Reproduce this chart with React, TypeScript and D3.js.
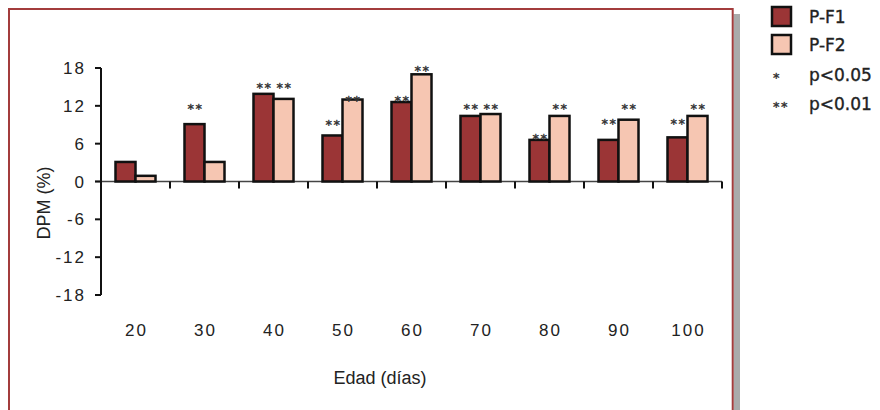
import React from "react";
import * as d3 from "d3";

const categories = ["20", "30", "40", "50", "60", "70", "80", "90", "100"];
const seriesNames = ["P-F1", "P-F2"];
const valuesF1 = [3.1, 9.1, 13.9, 7.3, 12.6, 10.4, 6.6, 6.6, 7.0];
const valuesF2 = [0.9, 3.1, 13.1, 13.0, 17.0, 10.7, 10.4, 9.8, 10.4];
// significance marks ("" none, "*" p<0.05, "**" p<0.01) and the level (in DPM %) where each mark sits
const sigF1 = ["", "**", "**", "**", "**", "**", "**", "**", "**"];
const sigF2 = ["", "", "**", "**", "**", "**", "**", "**", "**"];
const sigLevelF1 = [0, 12.0, 15.4, 9.5, 13.3, 12.0, 7.3, 9.6, 9.6];
const sigLevelF2 = [0, 0, 15.4, 13.3, 18.0, 12.0, 12.0, 12.0, 12.0];
const yTicks = [-18, -12, -6, 0, 6, 12, 18];
const legendSig = [
  { mark: "*", label: "p<0.05" },
  { mark: "**", label: "p<0.01" },
];

const COLORS = ["#9b3536", "#f6c6b2"];
const TICK_FONT = "'Liberation Sans', Arial, sans-serif";
const LEGEND_FONT = "'DejaVu Sans', sans-serif";

export default function App() {
  const W = 880;
  const H = 410;
  const x = d3.scaleBand<string>().domain(categories).range([101, 722]).paddingInner(0).paddingOuter(0);
  const bw = x.bandwidth();
  const xs = d3.scaleBand<string>().domain(seriesNames).range([bw / 2 - 20, bw / 2 + 20]);
  const y = d3.scaleLinear().domain([-18, 18]).range([295, 68]);
  const y0 = y(0);
  const series = [valuesF1, valuesF2];
  const sigs = [sigF1, sigF2];
  const sigLevels = [sigLevelF1, sigLevelF2];

  return (
    <svg width={W} height={H} style={{ position: "absolute", left: 0, top: 0, background: "#fff" }}>
      {/* frame with shadow */}
      <rect x={733.5} y={14} width={6.5} height={H} fill="#aaaaaa" />
      <rect x={9} y={9} width={723.7} height={H + 20} fill="none" stroke="#a33c3c" strokeWidth={2} />

      {/* zero line */}
      <line x1={95} x2={722} y1={y0} y2={y0} stroke="#444" strokeWidth={1.6} />

      {/* bars */}
      {categories.map((c, i) =>
        series.map((vals, s) => {
          const v = vals[i];
          const bx = (x(c) as number) + (xs(seriesNames[s]) as number);
          const top = y(Math.max(0, v));
          const bot = y(Math.min(0, v));
          return (
            <rect
              key={c + "-" + s}
              x={bx}
              y={top}
              width={xs.bandwidth()}
              height={bot - top}
              fill={COLORS[s]}
              stroke="#111"
              strokeWidth={2.5}
            />
          );
        })
      )}

      {/* significance marks */}
      {categories.map((c, i) =>
        sigs.map((sg, s) =>
          sg[i] ? (
            <text
              key={"sig" + c + s}
              x={(x(c) as number) + (xs(seriesNames[s]) as number) + xs.bandwidth() / 2 + 1}
              y={y(sigLevels[s][i])}
              dy="0.55em"
              textAnchor="middle"
              fontFamily={LEGEND_FONT}
              fontSize={13}
              letterSpacing={1.5}
              fill="#333"
              stroke="#333"
              strokeWidth={0.4}
            >
              {sg[i]}
            </text>
          ) : null
        )
      )}

      {/* y axis */}
      <line x1={101} x2={101} y1={y(18)} y2={y(-18)} stroke="#111" strokeWidth={2} />
      {yTicks.map((t) => (
        <g key={"yt" + t}>
          <line x1={95} x2={101} y1={y(t)} y2={y(t)} stroke="#111" strokeWidth={2} />
          <text
            x={86}
            y={y(t)}
            dy="0.36em"
            textAnchor="end"
            fontFamily={TICK_FONT}
            fontSize={17}
            letterSpacing={2}
            fill="#222"
          >
            {t}
          </text>
        </g>
      ))}

      {/* x axis ticks */}
      {categories.map((c) => (
        <line
          key={"xt" + c}
          x1={(x(c) as number) + bw}
          x2={(x(c) as number) + bw}
          y1={y0}
          y2={y0 + 7}
          stroke="#111"
          strokeWidth={2}
        />
      ))}
      {categories.map((c) => (
        <text
          key={"xl" + c}
          x={(x(c) as number) + bw / 2 + 1}
          y={336}
          textAnchor="middle"
          fontFamily={TICK_FONT}
          fontSize={17}
          letterSpacing={2}
          fill="#222"
        >
          {c}
        </text>
      ))}

      {/* axis titles */}
      <text x={380} y={384} textAnchor="middle" fontFamily={TICK_FONT} fontSize={18} fill="#222">
        Edad (días)
      </text>
      <text
        transform="translate(50,203) rotate(-90)"
        textAnchor="middle"
        fontFamily={TICK_FONT}
        fontSize={18}
        fill="#222"
      >
        DPM (%)
      </text>

      {/* legend */}
      {seriesNames.map((n, i) => (
        <g key={"lg" + n} transform={`translate(772, ${7 + i * 28})`}>
          <rect x={0} y={0} width={19} height={19} fill={COLORS[i]} stroke="#111" strokeWidth={2.5} />
          <text x={37} y={9.5} dy="0.36em" fontFamily={LEGEND_FONT} fontSize={17} fill="#222" stroke="#222" strokeWidth={0.35}>
            {n}
          </text>
        </g>
      ))}
      {legendSig.map((l, i) => (
        <g key={"ls" + i} transform={`translate(772, ${75 + i * 29})`}>
          <text x={1} y={0} dy="0.55em" fontFamily={LEGEND_FONT} fontSize={13} letterSpacing={1.5} fill="#333" stroke="#333" strokeWidth={0.4}>
            {l.mark}
          </text>
          <text x={37} y={0} dy="0.36em" fontFamily={LEGEND_FONT} fontSize={17} fill="#222" stroke="#222" strokeWidth={0.35}>
            {l.label}
          </text>
        </g>
      ))}
    </svg>
  );
}
